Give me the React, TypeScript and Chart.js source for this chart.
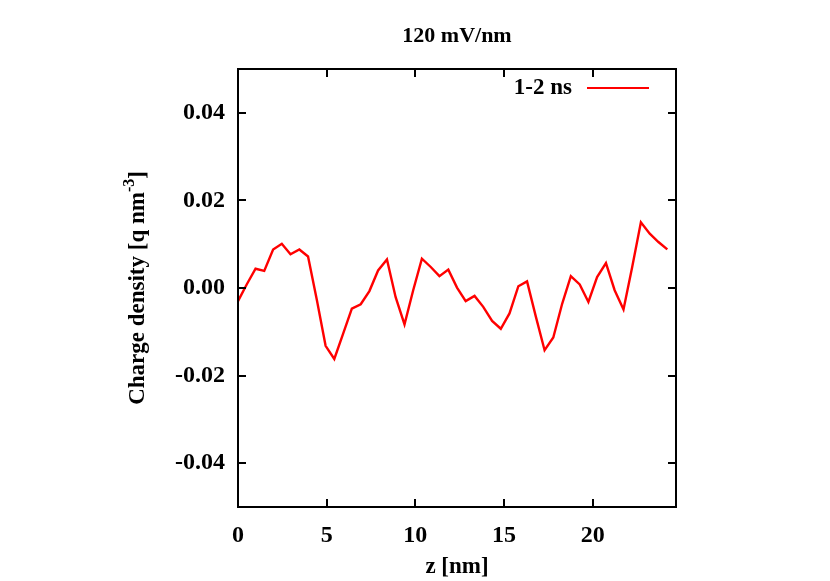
import { useEffect, useRef } from 'react';
import { Chart, registerables } from 'chart.js';

Chart.register(...registerables);

const zValues = [
  0, 0.49, 0.99, 1.48, 1.98, 2.47, 2.96, 3.46, 3.95, 4.45,
  4.94, 5.43, 5.93, 6.42, 6.92, 7.41, 7.9, 8.4, 8.89, 9.39,
  9.88, 10.37, 10.87, 11.36, 11.86, 12.35, 12.84, 13.34, 13.83, 14.33,
  14.82, 15.31, 15.81, 16.3, 16.8, 17.29, 17.78, 18.28, 18.77, 19.27,
  19.76, 20.25, 20.75, 21.24, 21.74, 22.23, 22.72, 23.22, 23.71, 24.21,
];

const chargeDensity = [
  -0.003, 0.0008, 0.0044, 0.0039, 0.0088, 0.0101, 0.0077, 0.0088, 0.0072, -0.0028,
  -0.0132, -0.0162, -0.0104, -0.0047, -0.0037, -0.0007, 0.004, 0.0065, -0.0021, -0.0083,
  -0.0005, 0.0067, 0.0048, 0.0027, 0.0042, 0.0001, -0.003, -0.0018, -0.0043, -0.0075,
  -0.0093, -0.0058, 0.0004, 0.0015, -0.0066, -0.0142, -0.0113, -0.0036, 0.0027, 0.0008,
  -0.0032, 0.0025, 0.0057, -0.0005, -0.0049, 0.0048, 0.015, 0.0124, 0.0105, 0.0088,
];

const xTicks = [0, 5, 10, 15, 20];
const yTicks = [-0.04, -0.02, 0, 0.02, 0.04];
const seriesLabel = '1-2 ns';
const chartTitle = '120 mV/nm';
const xTitle = 'z [nm]';
const yTitleMain = 'Charge density [q nm';
const yTitleSup = '-3';
const yTitleEnd = ']';

const FONT_FAMILY = '"Liberation Serif", "Times New Roman", serif';

const decorPlugin = {
  id: 'gnuplotDecor',
  afterDraw(chart: any) {
    const { ctx, chartArea } = chart;
    const { left, right, top, bottom } = chartArea;
    const xs = chart.scales.x;
    const ys = chart.scales.y;
    ctx.save();
    // frame
    ctx.strokeStyle = '#000';
    ctx.lineWidth = 2;
    ctx.strokeRect(left, top, right - left, bottom - top);
    // inward ticks on all sides
    const tl = 8;
    ctx.beginPath();
    xTicks.forEach((v) => {
      const px = Math.round(xs.getPixelForValue(v));
      ctx.moveTo(px, bottom);
      ctx.lineTo(px, bottom - tl);
      ctx.moveTo(px, top);
      ctx.lineTo(px, top + tl);
    });
    yTicks.forEach((v) => {
      const py = Math.round(ys.getPixelForValue(v));
      ctx.moveTo(left, py);
      ctx.lineTo(left + tl, py);
      ctx.moveTo(right, py);
      ctx.lineTo(right - tl, py);
    });
    ctx.stroke();

    ctx.fillStyle = '#000';
    // title
    ctx.font = `bold 22px ${FONT_FAMILY}`;
    ctx.textAlign = 'center';
    ctx.textBaseline = 'middle';
    ctx.fillText(chartTitle, (left + right) / 2, 36);

    // x title
    ctx.font = `bold 23px ${FONT_FAMILY}`;
    ctx.fillText(xTitle, (left + right) / 2, 567);

    // legend
    ctx.textAlign = 'right';
    ctx.fillText(seriesLabel, 572, 88);
    ctx.strokeStyle = '#ff0000';
    ctx.lineWidth = 2;
    ctx.beginPath();
    ctx.moveTo(587, 88);
    ctx.lineTo(649, 88);
    ctx.stroke();

    // y title rotated with superscript
    ctx.save();
    ctx.translate(136, (top + bottom) / 2);
    ctx.rotate(-Math.PI / 2);
    const mainFont = `bold 23px ${FONT_FAMILY}`;
    const supFont = `bold 16px ${FONT_FAMILY}`;
    ctx.font = mainFont;
    const w1 = ctx.measureText(yTitleMain).width;
    const w3 = ctx.measureText(yTitleEnd).width;
    ctx.font = supFont;
    const w2 = ctx.measureText(yTitleSup).width;
    const total = w1 + w2 + w3;
    let x0 = -total / 2;
    ctx.textAlign = 'left';
    ctx.textBaseline = 'alphabetic';
    const base = 8;
    ctx.font = mainFont;
    ctx.fillText(yTitleMain, x0, base);
    x0 += w1;
    ctx.font = supFont;
    ctx.fillText(yTitleSup, x0, base - 10);
    x0 += w2;
    ctx.font = mainFont;
    ctx.fillText(yTitleEnd, x0, base);
    ctx.restore();

    ctx.restore();
  },
};

export default function App() {
  const canvasRef = useRef<HTMLCanvasElement | null>(null);

  useEffect(() => {
    if (!canvasRef.current) return;
    const chart = new Chart(canvasRef.current, {
      type: 'line',
      data: {
        datasets: [
          {
            label: seriesLabel,
            data: zValues.map((z, i) => ({ x: z, y: chargeDensity[i] })),
            borderColor: '#ff0000',
            borderWidth: 2.4,
            pointRadius: 0,
            tension: 0,
            fill: false,
          },
        ],
      },
      options: {
        responsive: false,
        animation: false,
        devicePixelRatio: 1,
        layout: { padding: { top: 69, right: 154, left: 0, bottom: 0 } },
        plugins: {
          legend: { display: false },
          title: { display: false },
          tooltip: { enabled: false },
        },
        scales: {
          x: {
            type: 'linear',
            min: 0,
            max: 24.7,
            afterBuildTicks: (scale: any) => {
              scale.ticks = xTicks.map((v) => ({ value: v }));
            },
            afterFit: (scale: any) => {
              scale.height = 74;
            },
            grid: { display: false, drawTicks: false },
            border: { display: false },
            ticks: {
              color: '#000',
              padding: 14,
              maxRotation: 0,
              font: { family: FONT_FAMILY, size: 24, weight: 'bold' },
              callback: (v: any) => String(v),
            },
          },
          y: {
            type: 'linear',
            min: -0.05,
            max: 0.05,
            afterBuildTicks: (scale: any) => {
              scale.ticks = yTicks.map((v) => ({ value: v }));
            },
            afterFit: (scale: any) => {
              scale.width = 238;
            },
            grid: { display: false, drawTicks: false },
            border: { display: false },
            ticks: {
              color: '#000',
              padding: 13,
              font: { family: FONT_FAMILY, size: 24, weight: 'bold' },
              callback: (v: any) => Number(v).toFixed(2),
            },
          },
        },
      },
      plugins: [decorPlugin],
    });
    return () => chart.destroy();
  }, []);

  return (
    <div style={{ position: 'absolute', left: 0, top: 0, width: 830, height: 581, background: '#fff' }}>
      <canvas ref={canvasRef} width={830} height={581} />
    </div>
  );
}
